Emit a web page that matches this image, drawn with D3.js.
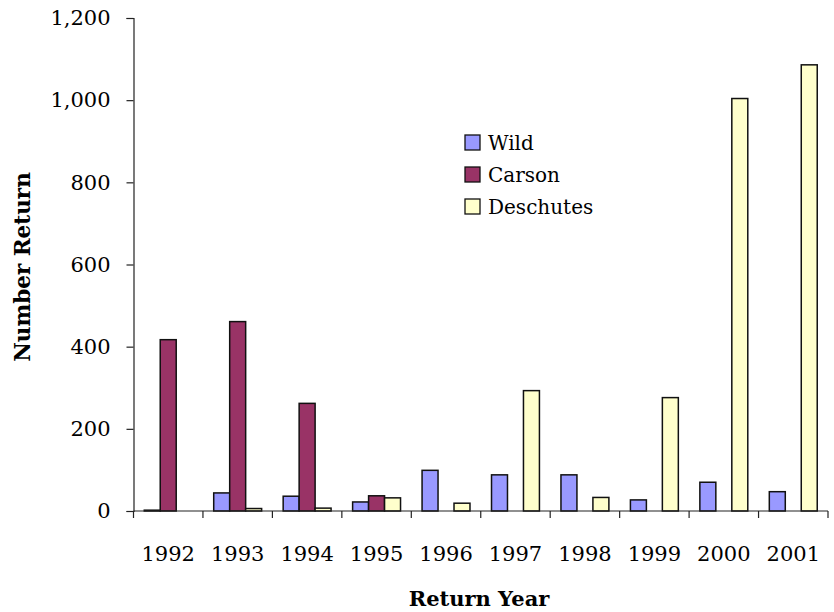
<!DOCTYPE html>
<html><head><meta charset="utf-8">
<script src="https://cdn.jsdelivr.net/npm/d3@7"></script>
<style>body{margin:0;background:#fff}svg{display:block}</style>
</head><body><svg id="c" width="834" height="612"></svg>
<script>
const years = ["1992","1993","1994","1995","1996","1997","1998","1999","2000","2001"];
const seriesNames = ["Wild","Carson","Deschutes"];
const wild = [2, 44, 36, 22, 99, 88, 88, 27, 70, 47];
const carson = [417, 461, 262, 37, 0, 0, 0, 0, 0, 0];
const deschutes = [0, 6, 7, 32, 19, 293, 33, 276, 1004, 1086];
const colors = ["#9999FF","#993366","#FFFFCC"];
const yTicks = [0,200,400,600,800,1000,1200];

const FONT = "DejaVu Serif, Liberation Serif, Times New Roman, serif";

const seriesVals = [wild, carson, deschutes];
const svg = d3.select("#c").attr("font-family", FONT);
const m = {l:133.5, r:828, t:18, b:511};
const x0 = d3.scaleBand().domain(years).range([m.l, m.r]).paddingInner(0.31).paddingOuter(0.155);
const xCat = d3.scaleBand().domain(years).range([m.l, m.r]).padding(0);
const x1 = d3.scaleBand().domain(seriesNames).range([0, x0.bandwidth()]);
const y = d3.scaleLinear().domain([0,1200]).range([m.b, m.t]);

const g = svg.append("g");
years.forEach((yr, i) => {
  seriesNames.forEach((s, j) => {
    const v = seriesVals[j][i];
    if (v <= 0) return;
    g.append("rect")
      .attr("x", x0(yr) + x1(s))
      .attr("y", y(v))
      .attr("width", x1.bandwidth())
      .attr("height", y(0) - y(v))
      .attr("fill", colors[j])
      .attr("stroke", "#111")
      .attr("stroke-width", 1.5);
  });
});

// y axis
const ya = svg.append("g").attr("transform", `translate(${m.l},0)`)
  .call(d3.axisLeft(y).tickValues(yTicks).tickFormat(d3.format(",")).tickSize(7).tickPadding(16));
ya.attr("font-family", FONT).attr("font-size", 21);
ya.selectAll("text").attr("fill","#000");
ya.select(".domain").attr("stroke","#222").attr("stroke-width",1.2);
ya.selectAll(".tick line").attr("stroke","#222").attr("stroke-width",1.2);

// x axis
const xa = svg.append("g").attr("transform", `translate(0,${m.b})`).attr("font-size", 21);
xa.append("line").attr("x1", m.l).attr("x2", m.r).attr("y1",0).attr("y2",0).attr("stroke","#222").attr("stroke-width",1.2);
const edges = years.map(d => xCat(d)).concat([m.r]);
xa.selectAll("line.t").data(edges).enter().append("line")
  .attr("x1", d=>d).attr("x2", d=>d).attr("y1",0).attr("y2",7).attr("stroke","#222").attr("stroke-width",1.2);
xa.selectAll("text").data(years).enter().append("text")
  .attr("x", d => xCat(d) + xCat.bandwidth()/2).attr("y", 50)
  .attr("text-anchor","middle").attr("fill","#000").text(d=>d);

// axis titles
svg.append("text").attr("x", 479).attr("y", 606).attr("text-anchor","middle")
  .attr("font-size", 21).attr("font-weight","bold").text("Return Year");
svg.append("text").attr("transform","translate(30,267) rotate(-90)").attr("text-anchor","middle")
  .attr("font-size", 21.5).attr("font-weight","bold").text("Number Return");

// legend
const lg = svg.append("g").attr("font-size", 20);
seriesNames.forEach((s, j) => {
  const yy = 135 + j*32;
  lg.append("rect").attr("x",465).attr("y",yy).attr("width",15).attr("height",15)
    .attr("fill",colors[j]).attr("stroke","#111").attr("stroke-width",1.3);
  lg.append("text").attr("x",488).attr("y",yy+15).text(s);
});
</script></body></html>
